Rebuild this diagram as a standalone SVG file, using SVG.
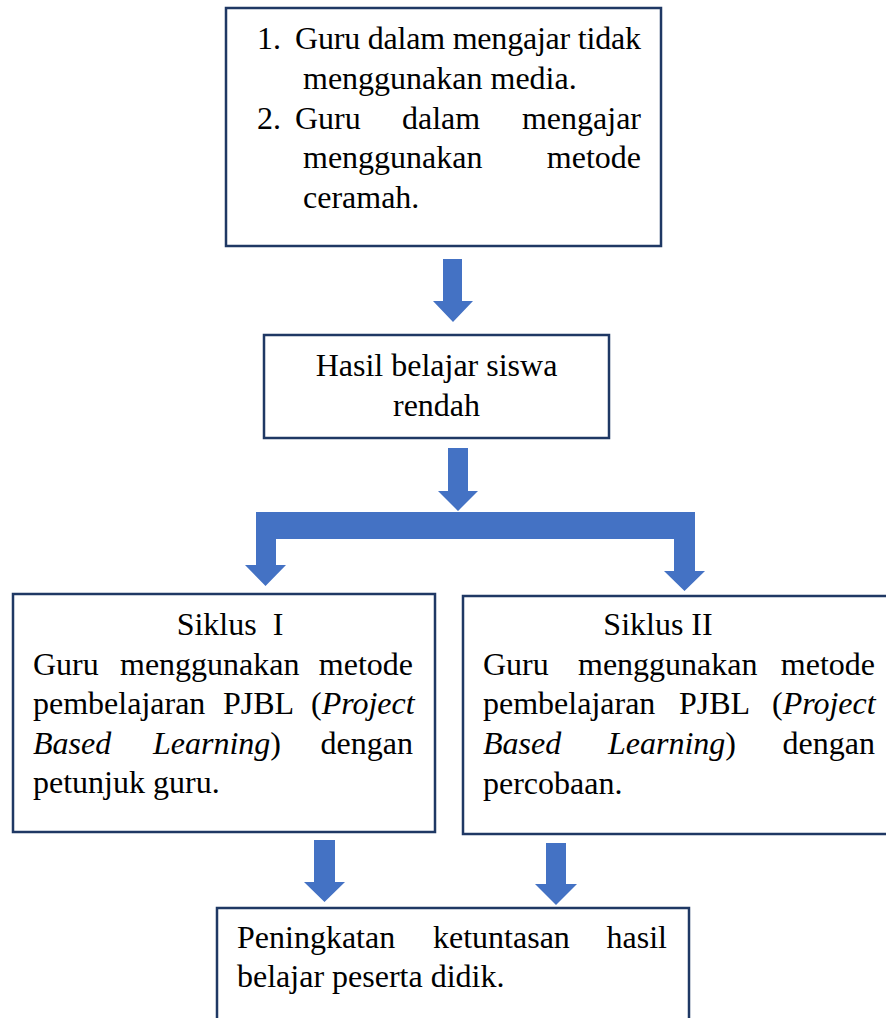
<svg xmlns="http://www.w3.org/2000/svg" width="886" height="1018" viewBox="0 0 886 1018">
<style>
.box{fill:#fff;stroke:#1F3864;stroke-width:2.5}
.t{font-family:'Liberation Serif',Tinos,'Times New Roman',Times,serif;font-size:32px;fill:#000}
.m{text-anchor:middle}
.e{text-anchor:end}
.arr{fill:#4472C4}
</style>
<rect width="886" height="1018" fill="#fff"/>
<g id="connectors">
<path class="arr" d="M443,259 H462 V301 H473 L453,322 L433,301 H443 Z"/>
<path class="arr" d="M448,448 H468 V491 H478 L458,511 L438,491 H448 Z"/>
<path class="arr" d="M256,512 H695 V571 H705 L684.5,591 L664,571 H674 V539 H276 V565 H286 L265.5,586 L245,565 H256 Z"/>
<path class="arr" d="M314,840 H335 V882 H345 L324.5,902 L304,882 H314 Z"/>
<path class="arr" d="M546,843 H566 V884 H577 L556,905 L535,884 H546 Z"/>
</g>
<g id="node-masalah">
<rect class="box" x="226" y="8" width="435" height="238"/>
<text class="t" x="257" y="49">1.</text>
<text class="t" x="295" y="49" textLength="346" lengthAdjust="spacing">Guru dalam mengajar tidak</text>
<text class="t" x="303" y="89">menggunakan media.</text>
<text class="t" x="257" y="129">2.</text>
<text class="t" x="295" y="129">Guru</text>
<text class="t" x="402" y="129">dalam</text>
<text class="t e" x="641" y="129">mengajar</text>
<text class="t" x="303" y="168">menggunakan</text>
<text class="t e" x="641" y="168">metode</text>
<text class="t" x="303" y="208">ceramah.</text>
</g>
<g id="node-hasil">
<rect class="box" x="264" y="335" width="345" height="103"/>
<text class="t m" x="436.5" y="376">Hasil belajar siswa</text>
<text class="t m" x="436.5" y="416">rendah</text>
</g>
<g id="node-siklus1">
<rect class="box" x="13" y="594" width="422" height="238"/>
<text class="t m" x="230" y="635" style="word-spacing:8px">Siklus I</text>
<text class="t" x="33" y="675">Guru</text>
<text class="t" x="120" y="675">menggunakan</text>
<text class="t e" x="413" y="675">metode</text>
<text class="t" x="33" y="714">pembelajaran</text>
<text class="t" x="223" y="714">PJBL</text>
<text class="t" x="311" y="714">(<tspan font-style="italic">Project</tspan></text>
<text class="t" x="33" y="754" font-style="italic">Based</text>
<text class="t" x="153" y="754"><tspan font-style="italic">Learning</tspan>)</text>
<text class="t e" x="413" y="754">dengan</text>
<text class="t" x="33" y="793">petunjuk guru.</text>
</g>
<g id="node-siklus2">
<rect class="box" x="463" y="596" width="430" height="238"/>
<text class="t m" x="658" y="635">Siklus II</text>
<text class="t" x="483" y="675">Guru</text>
<text class="t" x="578" y="675">menggunakan</text>
<text class="t e" x="875" y="675">metode</text>
<text class="t" x="483" y="714">pembelajaran</text>
<text class="t" x="679" y="714">PJBL</text>
<text class="t" x="772" y="714">(<tspan font-style="italic">Project</tspan></text>
<text class="t" x="483" y="754" font-style="italic">Based</text>
<text class="t" x="608" y="754"><tspan font-style="italic">Learning</tspan>)</text>
<text class="t e" x="875" y="754">dengan</text>
<text class="t" x="483" y="794">percobaan.</text>
</g>
<g id="node-peningkatan">
<rect class="box" x="217" y="908" width="472" height="130"/>
<text class="t" x="237" y="948">Peningkatan</text>
<text class="t" x="433" y="948">ketuntasan</text>
<text class="t e" x="667" y="948">hasil</text>
<text class="t" x="237" y="987">belajar peserta didik.</text>
</g>
</svg>
